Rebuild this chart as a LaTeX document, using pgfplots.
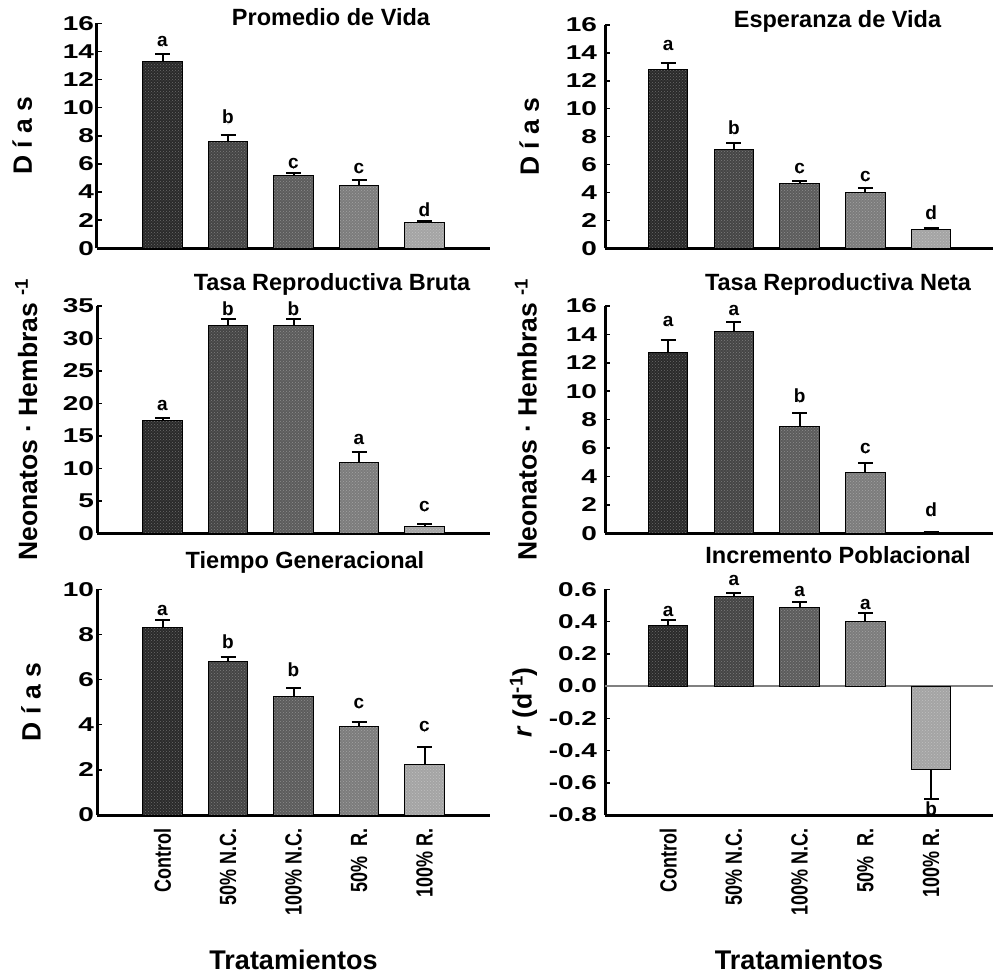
\documentclass[border=0pt]{standalone}
\usepackage{fontspec}
\setmainfont{Liberation Sans}
\usepackage{pgfplots}
\usetikzlibrary{patterns}
\pgfplotsset{compat=1.18}
\definecolor{c1}{HTML}{2A2A2A}
\definecolor{c2}{HTML}{454545}
\definecolor{c3}{HTML}{5C5C5C}
\definecolor{c4}{HTML}{7C7C7C}
\definecolor{c5}{HTML}{A4A4A4}
\pgfplotsset{
  panel/.style={scale only axis, anchor=south west, clip=false,
    axis x line*=bottom, axis y line*=left,
    axis line style={line width=3pt, black},
    tick align=inside, major tick length=5pt,
    ytick style={line width=1.5pt, black},
    xtick style={draw=none},
    xtick=\empty,
    /pgf/number format/assume math mode=true,
    tick label style={font=\fontsize{20}{22}\selectfont\bfseries},
    every axis title/.style={at={(axis description cs:0.5,1)}, anchor=base, font=\fontsize{23.5}{26}\selectfont\bfseries},
    ylabel style={font=\fontsize{26.5}{28}\selectfont\bfseries, anchor=center},
  },
  leftcol/.style={panel, width=393pt, xmin=0, xmax=6, yticklabel style={xshift=2pt, xscale=1.4}},
  rightcol/.style={panel, width=388pt, xmin=0.04, xmax=5.94, yticklabel style={xshift=-3pt, xscale=1.4}},
  bottomrow/.style={xtick={1,2,3,4,5},
    xticklabels={Control,50\% N.C.,100\% N.C.,50\%~~R.,100\% R.},
    xticklabel style={yshift=-10pt, rotate=90, yscale=1.3, anchor=east, font=\fontsize{18}{20}\selectfont\bfseries},
    xlabel=Tratamientos,
    xlabel style={at={(axis description cs:0.5,0)}, anchor=center, yshift=-145pt, font=\fontsize{27}{30}\selectfont\bfseries}},
  mybar/.style={ybar, bar shift=0pt, bar width=39.5pt, draw=black, line width=1pt, fill=#1,
    postaction={pattern=crosshatch dots, pattern color=#1!70!white},
    /pgfplots/error bars/y dir=plus, /pgfplots/error bars/y explicit,
    /pgfplots/error bars/error bar style={line width=2pt, black},
    /pgfplots/error bars/error mark options={rotate=90, mark size=7.5pt, line width=2pt, black}},
  letters/.style={only marks, mark=*, mark size=0.01pt, mark options={draw=none, fill=none},
    nodes near coords, point meta=explicit symbolic,
    nodes near coords style={anchor=base, inner sep=0pt, font=\fontsize{19}{20}\selectfont\bfseries, black}},
}
\begin{document}
\begin{tikzpicture}
\useasboundingbox (0pt,0pt) rectangle (993pt,975pt);

% Panel 1: Promedio de Vida
\begin{axis}[leftcol, at={(97pt,726.7pt)}, height=225pt, ymin=0, ymax=16,
  ytick={0,2,4,6,8,10,12,14,16}, yticklabels={0,2,4,6,8,10,12,14,16},
  title={Promedio de Vida}, title style={xshift=37.5pt, yshift=-2.7pt},
  ylabel={D í a s}, ylabel style={at={(axis description cs:-0.19,0.5)}}]
\addplot[mybar=c1] coordinates {(1,13.30) +- (0,0.50)};
\addplot[mybar=c2] coordinates {(2,7.60) +- (0,0.45)};
\addplot[mybar=c3] coordinates {(3,5.15) +- (0,0.20)};
\addplot[mybar=c4] coordinates {(4,4.50) +- (0,0.35)};
\addplot[mybar=c5] coordinates {(5,1.85) +- (0,0.10)};
\addplot[letters] coordinates {(1,14.34) [a] (2,8.84) [b] (3,5.69) [c] (4,5.33) [c] (5,2.25) [d]};
\end{axis}

% Panel 2: Esperanza de Vida
\begin{axis}[rightcol, at={(605pt,726.7pt)}, height=223.3pt, ymin=0, ymax=16,
  ytick={0,2,4,6,8,10,12,14,16}, yticklabels={0,2,4,6,8,10,12,14,16},
  title={Esperanza de Vida}, title style={xshift=38.5pt, yshift=-3pt},
  ylabel={D í a s}, ylabel style={at={(axis description cs:-0.195,0.5)}}]
\addplot[mybar=c1] coordinates {(1,12.80) +- (0,0.50)};
\addplot[mybar=c2] coordinates {(2,7.10) +- (0,0.45)};
\addplot[mybar=c3] coordinates {(3,4.62) +- (0,0.17)};
\addplot[mybar=c4] coordinates {(4,3.97) +- (0,0.35)};
\addplot[mybar=c5] coordinates {(5,1.33) +- (0,0.10)};
\addplot[letters] coordinates {(1,14.2) [a] (2,8.12) [b] (3,5.37) [c] (4,4.77) [c] (5,2.03) [d]};
\end{axis}

% Panel 3: Tasa Reproductiva Bruta
\begin{axis}[leftcol, at={(97pt,441.7pt)}, height=227.3pt, ymin=0, ymax=35,
  ytick={0,5,10,15,20,25,30,35}, yticklabels={0,5,10,15,20,25,30,35},
  title={Tasa Reproductiva Bruta}, title style={xshift=38.5pt, yshift=15.3pt},
  ylabel={Neonatos · Hembras \textsuperscript{-1}}, ylabel style={at={(axis description cs:-0.18,0.5)}}]
\addplot[mybar=c1] coordinates {(1,17.40) +- (0,0.40)};
\addplot[mybar=c2] coordinates {(2,32.00) +- (0,1.00)};
\addplot[mybar=c3] coordinates {(3,32.00) +- (0,1.00)};
\addplot[mybar=c4] coordinates {(4,10.90) +- (0,1.65)};
\addplot[mybar=c5] coordinates {(5,1.00) +- (0,0.50)};
\addplot[letters] coordinates {(1,18.98) [a] (2,33.6) [b] (3,33.6) [b] (4,13.6) [a] (5,3.33) [c]};
\end{axis}

% Panel 4: Tasa Reproductiva Neta
\begin{axis}[rightcol, at={(605pt,441.7pt)}, height=227.3pt, ymin=0, ymax=16,
  ytick={0,2,4,6,8,10,12,14,16}, yticklabels={0,2,4,6,8,10,12,14,16},
  title={Tasa Reproductiva Neta}, title style={xshift=39pt, yshift=15.3pt},
  ylabel={Neonatos · Hembras \textsuperscript{-1}}, ylabel style={at={(axis description cs:-0.204,0.5)}}]
\addplot[mybar=c1] coordinates {(1,12.75) +- (0,0.85)};
\addplot[mybar=c2] coordinates {(2,14.20) +- (0,0.70)};
\addplot[mybar=c3] coordinates {(3,7.55) +- (0,0.95)};
\addplot[mybar=c4] coordinates {(4,4.30) +- (0,0.65)};
\addplot[mybar=c5] coordinates {(5,0.05) +- (0,0.05)};
\addplot[letters] coordinates {(1,14.55) [a] (2,15.33) [a] (3,9.2) [b] (4,5.63) [c] (5,1.17) [d]};
\end{axis}

% Panel 5: Tiempo Generacional
\begin{axis}[leftcol, bottomrow, at={(97pt,160pt)}, height=225.7pt, ymin=0, ymax=10,
  ytick={0,2,4,6,8,10}, yticklabels={0,2,4,6,8,10},
  title={Tiempo Generacional}, title style={xshift=11.5pt, yshift=21pt},
  ylabel={D í a s}, ylabel style={at={(axis description cs:-0.168,0.5)}}]
\addplot[mybar=c1] coordinates {(1,8.30) +- (0,0.34)};
\addplot[mybar=c2] coordinates {(2,6.79) +- (0,0.22)};
\addplot[mybar=c3] coordinates {(3,5.27) +- (0,0.37)};
\addplot[mybar=c4] coordinates {(4,3.94) +- (0,0.18)};
\addplot[mybar=c5] coordinates {(5,2.25) +- (0,0.75)};
\addplot[letters] coordinates {(1,8.82) [a] (2,7.39) [b] (3,6.13) [b] (4,4.73) [c] (5,3.69) [c]};
\end{axis}

% Panel 6: Incremento Poblacional
\begin{axis}[rightcol, bottomrow, at={(605pt,160pt)}, height=225.7pt, ymin=-0.8, ymax=0.6,
  ytick={-0.8,-0.6,-0.4,-0.2,0,0.2,0.4,0.6}, yticklabels={-0.8,-0.6,-0.4,-0.2,0.0,0.2,0.4,0.6},
  title={Incremento Poblacional}, title style={xshift=39pt, yshift=26pt},
  ylabel={\textit{r} (d\textsuperscript{-1})}, ylabel style={at={(axis description cs:-0.21,0.5)}}]
\addplot[gray, line width=1.2pt, forget plot] coordinates {(0.04,0) (5.94,0)};
\addplot[mybar=c1] coordinates {(1,0.377) +- (0,0.031)};
\addplot[mybar=c2] coordinates {(2,0.557) +- (0,0.021)};
\addplot[mybar=c3] coordinates {(3,0.485) +- (0,0.037)};
\addplot[mybar=c4] coordinates {(4,0.398) +- (0,0.055)};
\addplot[mybar=c5, /pgfplots/error bars/y dir=minus] coordinates {(5,-0.515) +- (0,0.185)};
\addplot[letters] coordinates {(1,0.429) [a] (2,0.621) [a] (3,0.553) [a] (4,0.476) [a] (5,-0.80) [b]};
\end{axis}
\end{tikzpicture}
\end{document}
